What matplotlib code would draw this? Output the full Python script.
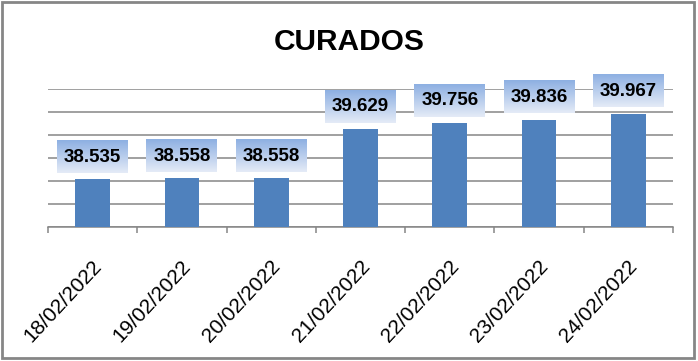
import numpy as np
import matplotlib.pyplot as plt
import matplotlib.transforms as mtransforms
from matplotlib.patches import Rectangle
from matplotlib.colors import LinearSegmentedColormap

plt.rcParams['font.family'] = ['Liberation Sans', 'DejaVu Sans']

dates = ['18/02/2022', '19/02/2022', '20/02/2022', '21/02/2022',
         '22/02/2022', '23/02/2022', '24/02/2022']
curados = [38535, 38558, 38558, 39629, 39756, 39836, 39967]
labels = ['38.535', '38.558', '38.558', '39.629', '39.756', '39.836', '39.967']

fig = plt.figure(figsize=(6.98, 3.61), dpi=100)
ax = fig.add_axes([48 / 698, 1 - 227 / 361, 625 / 698, 138 / 361])

x = np.arange(len(dates))
ax.bar(x, curados, width=0.39, color='#4F81BD', zorder=3)

ax.set_xlim(-0.5, len(dates) - 0.5)
ax.set_ylim(37500, 40500)
ax.set_yticks(np.arange(37500, 40501, 500))
ax.yaxis.grid(True, color='#868686', linewidth=1.1, zorder=0)
ax.tick_params(axis='y', left=False, labelleft=False)
for s in ['left', 'right', 'top']:
    ax.spines[s].set_visible(False)
ax.spines['bottom'].set_color('#868686')
ax.spines['bottom'].set_linewidth(1.1)

# ticks at category boundaries, labels at centers
ax.set_xticks(np.arange(-0.5, len(dates), 1.0), minor=True)
ax.tick_params(axis='x', which='minor', length=4.5, color='#868686', width=1.1)
ax.set_xticks(x)
ax.set_xticklabels(dates, rotation=47, ha='right', va='center',
                   rotation_mode='anchor', fontsize=15)
ax.tick_params(axis='x', which='major', length=0, pad=26)
offset = mtransforms.ScaledTranslation(6 / 100, 0, fig.dpi_scale_trans)
for lab in ax.get_xticklabels():
    lab.set_transform(lab.get_transform() + offset)

# gradient label boxes
grad = LinearSegmentedColormap.from_list('g', ['#E4EBF7', '#8EB0E2'])
box_w = 0.795
box_h = 700
gap = 135
for xi, v, t in zip(x, curados, labels):
    b = v + gap
    ax.imshow(np.linspace(0, 1, 50).reshape(-1, 1), cmap=grad, aspect='auto',
              origin='lower', extent=(xi - box_w / 2, xi + box_w / 2, b, b + box_h),
              zorder=4, clip_on=False)
    ax.text(xi, b + box_h * 0.5, t, ha='center', va='center', fontsize=13.5,
            fontweight='bold', color='black', zorder=5, clip_on=False)

ax.set_xlim(-0.5, len(dates) - 0.5)
ax.set_ylim(37500, 40500)

fig.text(0.5, 1 - 42.5 / 361, 'CURADOS', ha='center', va='center',
         fontsize=21.5, fontweight='bold')

# chart area border
fig.patches.append(Rectangle((2 / 698, 3 / 361), 692 / 698, 356 / 361,
                             transform=fig.transFigure, fill=False,
                             edgecolor='#868686', linewidth=2))

fig.savefig('out.png', dpi=100)
